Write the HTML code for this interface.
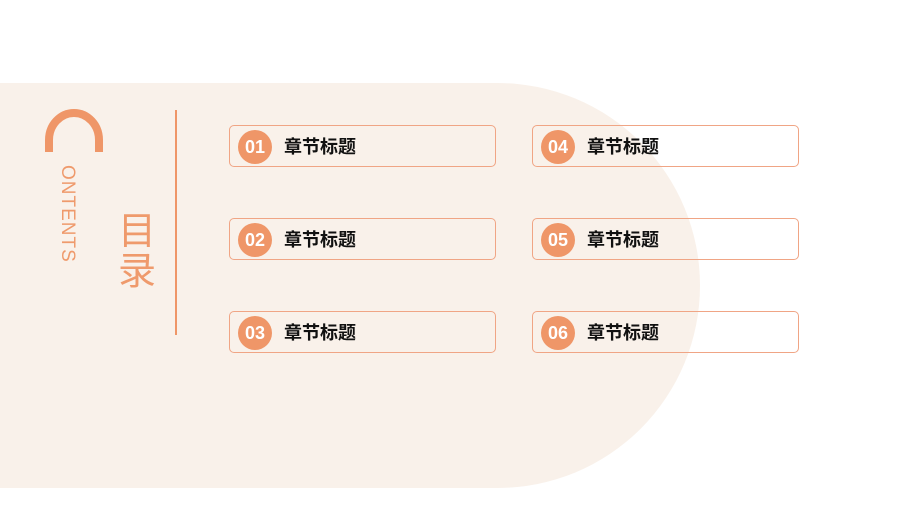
<!DOCTYPE html>
<html><head><meta charset="utf-8"><style>
body{margin:0;width:900px;height:506px;background:#fff;position:relative;overflow:hidden;font-family:"Liberation Sans","Noto Sans CJK SC",sans-serif}
.bg{position:absolute;left:0;top:83px;width:700px;height:405px;background:#f9f1ea;border-radius:0 203px 203px 0}
.box{position:absolute;width:267px;height:42px;border:1px solid #f0a585;border-radius:5px;box-sizing:border-box}
.num{position:absolute;left:8px;top:4px;width:34px;height:34px;border-radius:50%;background:#ef9668;color:#fff;font-weight:bold;font-size:18px;line-height:34px;text-align:center}
.t{position:absolute;left:54px;top:0;line-height:42px;font-size:18px;font-weight:bold;color:#111}
.ct{position:absolute;left:78px;top:165px;transform-origin:0 0;transform:rotate(90deg);color:#ef9a6c;font-size:19px;letter-spacing:1px}
.ml{position:absolute;left:118px;top:212px;width:40px;font-size:38px;line-height:40px;color:#ef9a6c}
</style></head><body>
<div class="bg"></div>
<svg style="position:absolute;left:0;top:0" width="200" height="360"><path d="M49 152 L49 140 A25 27 0 1 1 99 140 L99 152" fill="none" stroke="#ef9668" stroke-width="8"/><line x1="176" y1="110" x2="176" y2="335" stroke="#ef9668" stroke-width="2"/></svg>
<div class="ct">ONTENTS</div>
<div class="ml">目<br>录</div>
<div class="box" style="left:229px;top:125px"><div class="num">01</div><div class="t">章节标题</div></div>
<div class="box" style="left:229px;top:218px"><div class="num">02</div><div class="t">章节标题</div></div>
<div class="box" style="left:229px;top:311px"><div class="num">03</div><div class="t">章节标题</div></div>
<div class="box" style="left:532px;top:125px"><div class="num">04</div><div class="t">章节标题</div></div>
<div class="box" style="left:532px;top:218px"><div class="num">05</div><div class="t">章节标题</div></div>
<div class="box" style="left:532px;top:311px"><div class="num">06</div><div class="t">章节标题</div></div>
</body></html>
